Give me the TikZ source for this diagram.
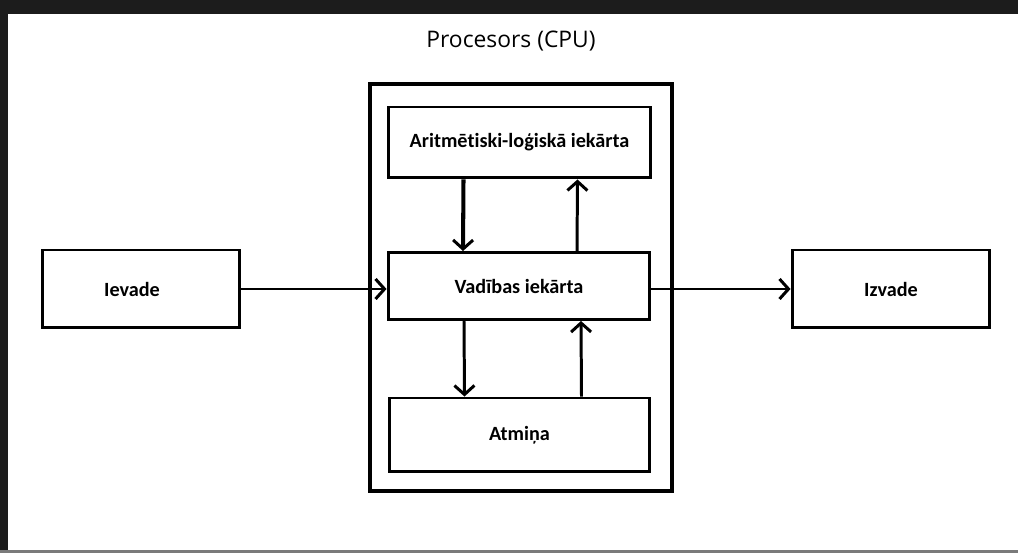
\documentclass[tikz,border=0pt]{standalone}
\usepackage{fontspec}
\setmainfont{Open Sans}
\newfontfamily\labelfont[Ligatures=NoCommon]{Carlito}
\usepackage{tikz}
\usetikzlibrary{arrows.meta,calc}

\definecolor{framedark}{HTML}{1C1C1C}
\definecolor{framegray}{HTML}{7A7A7A}

\tikzset{
  unitbox/.style={draw, line width=1.7pt, minimum width=#1, inner sep=0pt,
    font=\labelfont\bfseries\fontsize{11.5}{13}\selectfont},
  flow/.style={line width=1.7pt, -{Straight Barb[length=1.8mm,width=4mm,line width=1.7pt]}}
}

\begin{document}
\begin{tikzpicture}[x=0.02cm, y=-0.02cm]
    % Canvas and window frame
    \useasboundingbox (0,0) rectangle (1018,553);
    \fill[white] (0,0) rectangle (1018,553);
    \fill[framedark] (0,0) rectangle (1018,14);
    \fill[framedark] (0,0) rectangle (8,553);
    \fill[framegray] (0,550.5) rectangle (1018,553);

    % Processor frame and its title
    \node[draw, line width=2pt, minimum width=6.04cm, minimum height=8.14cm, inner sep=0pt] (cpu) at (521,287.5) {};
    \node[font=\fontsize{13}{15}\selectfont] (title) at (511,41) {Procesors (CPU)};

    % Units inside the processor
    \node[unitbox=5.26cm, minimum height=1.42cm] (alu) at (519.5,142.5) {Aritmētiski-loģiskā iekārta};
    \node[unitbox=5.24cm, minimum height=1.34cm] (vad) at (519,286) {Vadības iekārta};
    \node[unitbox=5.22cm, minimum height=1.48cm] (atm) at (519.5,435) {Atmiņa};

    % Input and output
    \node[unitbox=3.96cm, minimum height=1.56cm] (iev) at (141,289) {\hspace*{-0.36cm}Ievade};
    \node[unitbox=3.96cm, minimum height=1.56cm] (izv) at (891,289) {Izvade};

    % Data paths
    \draw[flow] (iev.east) -- (iev.east -| vad.west);
    \draw[flow] (vad.east |- izv.west) -- (izv.west);

    \draw[flow, line width=2.3pt] ($(alu.south)+(-56,0)$) -- ($(vad.north)+(-56,0)$);
    \draw[flow] ($(vad.north)+(58,0)$) -- ($(alu.south)+(58,0)$);
    \draw[flow] ($(vad.south)+(-55,0)$) -- ($(atm.north)+(-55,0)$);
    \draw[flow] ($(atm.north)+(62,0)$) -- ($(vad.south)+(62,0)$);
\end{tikzpicture}
\end{document}
